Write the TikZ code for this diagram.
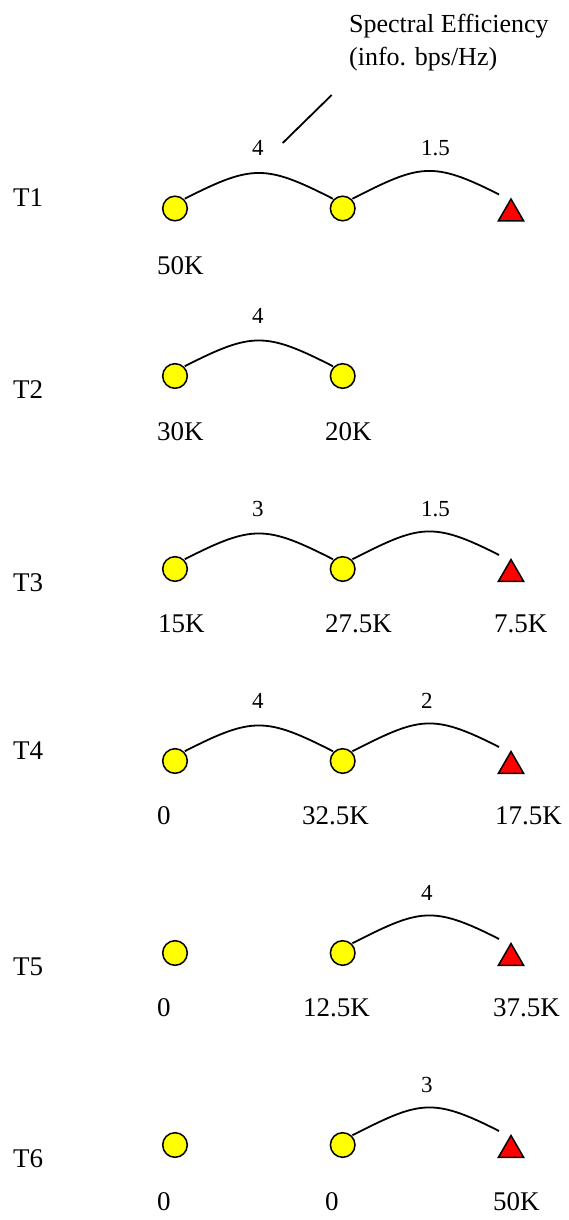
\documentclass[tikz,border=0pt]{standalone}
\usepackage{fontspec}
\setmainfont{Liberation Serif}
\usetikzlibrary{shapes.geometric,calc}
\definecolor{RelayClr}{rgb}{1,1,0}
\definecolor{BsClr}{rgb}{1,0,0}

\begin{document}
\begin{tikzpicture}[x=1pt,y=-1pt,
  relay/.style={circle,draw,fill=RelayClr,line width=1.5pt,minimum size=24.6pt,inner sep=0pt,outer sep=1.5pt},
  bs/.style={regular polygon,regular polygon sides=3,draw,fill=BsClr,line width=1.5pt,minimum size=29pt,inner sep=0pt},
  hoparc/.style={line width=1.8pt,out=27,in=153,looseness=1.31},
  headlbl/.style={font=\fontsize{26}{30}\selectfont,inner sep=0pt,anchor=base west},
  ratelbl/.style={font=\fontsize{23}{26}\selectfont,inner sep=0pt,anchor=west},
  loadlbl/.style={font=\fontsize{27}{30}\selectfont,inner sep=0pt,anchor=west},
  slotlbl/.style={font=\fontsize{27}{30}\selectfont,inner sep=0pt,anchor=west}]
\useasboundingbox (0,0) rectangle (568,1220);

\node[headlbl] (hd1) at (349,33) {Spectral Efficiency};
\node[headlbl] (hd2) at (349,66) {(info. bps/Hz)};
\coordinate (ptrA) at (331.7,95);
\coordinate (ptrB) at (282.7,143);
\draw[line width=1.8pt] (ptrA) -- (ptrB);

\node[slotlbl] (s1) at (13,198) {T1};
\node[relay] (r11) at (175,208.5) {};
\node[relay] (r12) at (342.7,208.5) {};
\node[bs] (b1) at (511,213.5) {};
\draw[hoparc] (r11.45) to (r12.135);
\draw[hoparc] (r12.45) to ($(b1.corner 1)+(-12,-3)$);
\node[ratelbl] (e11) at (252,148) {4};
\node[ratelbl] (e12) at (421,148) {1.5};
\node[loadlbl] (l11) at (157,266) {50K};

\node[slotlbl] (s2) at (13,390) {T2};
\node[relay] (r21) at (175,376) {};
\node[relay] (r22) at (342.7,376) {};
\draw[hoparc] (r21.45) to (r22.135);
\node[ratelbl] (e21) at (252,316) {4};
\node[loadlbl] (l21) at (157,432) {30K};
\node[loadlbl] (l22) at (325,432) {20K};

\node[slotlbl] (s3) at (13,583) {T3};
\node[relay] (r31) at (175,569) {};
\node[relay] (r32) at (342.7,569) {};
\node[bs] (b3) at (511,574) {};
\draw[hoparc] (r31.45) to (r32.135);
\draw[hoparc] (r32.45) to ($(b3.corner 1)+(-12,-3)$);
\node[ratelbl] (e31) at (252,509) {3};
\node[ratelbl] (e32) at (421,509) {1.5};
\node[loadlbl] (l31) at (158,624) {15K};
\node[loadlbl] (l32) at (325,624) {27.5K};
\node[loadlbl] (l33) at (494,624) {7.5K};

\node[slotlbl] (s4) at (13,751) {T4};
\node[relay] (r41) at (175,761) {};
\node[relay] (r42) at (342.7,761) {};
\node[bs] (b4) at (511,766) {};
\draw[hoparc] (r41.45) to (r42.135);
\draw[hoparc] (r42.45) to ($(b4.corner 1)+(-12,-3)$);
\node[ratelbl] (e41) at (252,701) {4};
\node[ratelbl] (e42) at (421,701) {2};
\node[loadlbl] (l41) at (157,816) {0};
\node[loadlbl] (l42) at (302,816) {32.5K};
\node[loadlbl] (l43) at (495,816) {17.5K};

\node[slotlbl] (s5) at (13,967) {T5};
\node[relay] (r51) at (175,953) {};
\node[relay] (r52) at (342.7,953) {};
\node[bs] (b5) at (511,958) {};
\draw[hoparc] (r52.45) to ($(b5.corner 1)+(-12,-3)$);
\node[ratelbl] (e52) at (421,893) {4};
\node[loadlbl] (l51) at (157,1008) {0};
\node[loadlbl] (l52) at (303,1008) {12.5K};
\node[loadlbl] (l53) at (493,1008) {37.5K};

\node[slotlbl] (s6) at (13,1159) {T6};
\node[relay] (r61) at (175,1145) {};
\node[relay] (r62) at (342.7,1145) {};
\node[bs] (b6) at (511,1150) {};
\draw[hoparc] (r62.45) to ($(b6.corner 1)+(-12,-3)$);
\node[ratelbl] (e62) at (421,1085) {3};
\node[loadlbl] (l61) at (157,1202) {0};
\node[loadlbl] (l62) at (325,1202) {0};
\node[loadlbl] (l63) at (493,1202) {50K};

\end{tikzpicture}
\end{document}
